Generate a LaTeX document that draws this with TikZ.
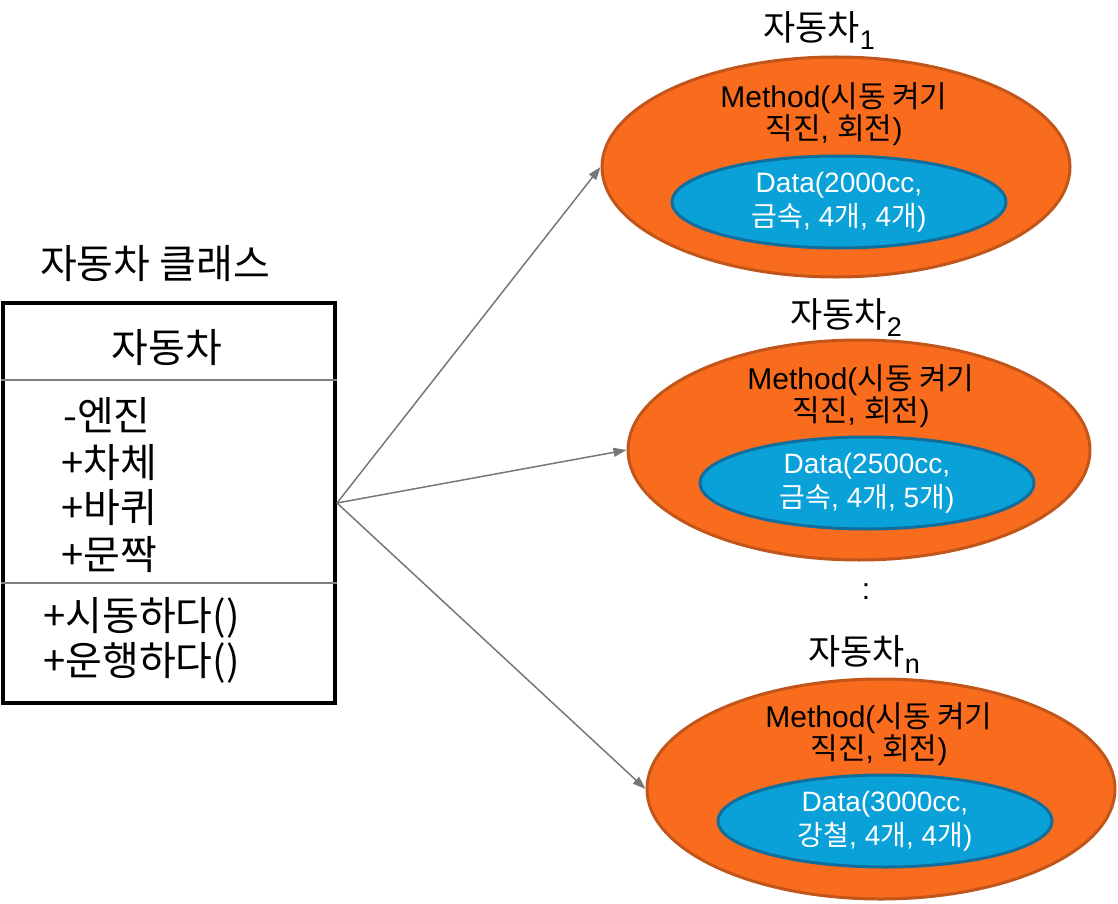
\documentclass[tikz,border=0pt]{standalone}
\usepackage{fontspec}
\setmainfont{Liberation Sans}
\newfontfamily\kr{Noto Sans CJK KR}
\usetikzlibrary{shapes.geometric,arrows.meta}

\definecolor{objfill}{HTML}{F96C1E}
\definecolor{objedge}{HTML}{C2561A}
\definecolor{datafill}{HTML}{0AA1D9}
\definecolor{dataedge}{HTML}{106E9C}
\definecolor{linkgray}{HTML}{777777}
\definecolor{rulegray}{HTML}{808080}

\begin{document}
\begin{tikzpicture}[x=1pt,y=-1pt,
  objshape/.style={ellipse, draw=objedge, fill=objfill, line width=3pt,
    minimum width=468pt, minimum height=220pt, inner sep=0pt},
  datashape/.style={ellipse, draw=dataedge, fill=datafill, line width=3pt,
    minimum width=334pt, minimum height=92pt, inner sep=0pt},
  methodtext/.style={font=\fontsize{30}{32}\selectfont, align=center, inner sep=0pt},
  datatext/.style={font=\fontsize{28}{34}\selectfont, align=center, inner sep=0pt, text=white},
  objtitle/.style={font=\kr\fontsize{35}{38}\selectfont, anchor=west, inner sep=0pt},
  member/.style={font=\kr\fontsize{40}{44}\selectfont, anchor=west, inner sep=0pt},
  link/.style={draw=linkgray, line width=1.5pt, -{Triangle[length=13pt,width=9pt]}}
]
\useasboundingbox (0,0) rectangle (1118,904);

% class box
\node[font=\kr\fontsize{40}{44}\selectfont, inner sep=0pt] (ctitle) at (155,264) {자동차 클래스};
\node[draw, line width=4pt, minimum width=332pt, minimum height=400pt, inner sep=0pt] (cls) at (169,503) {};
\draw[rulegray, line width=2pt] (cls.west |- 0,380) coordinate (r1a) -- (cls.east |- 0,380) coordinate (r1b);
\draw[rulegray, line width=2pt] (cls.west |- 0,583) coordinate (r2a) -- (cls.east |- 0,583) coordinate (r2b);
\node[font=\kr\fontsize{40}{44}\selectfont, inner sep=0pt] (cname) at (167,348) {자동차};
\node[member] (a1) at (63,415) {-엔진};
\node[member] (a2) at (61,463) {+차체};
\node[member] (a3) at (61,508) {+바퀴};
\node[member] (a4) at (61,555) {+문짝};
\node[member] (m1) at (43,618) {+시동하다()};
\node[member] (m2) at (43,663) {+운행하다()};

% object 1
\node[objshape] (o1) at (836,167) {};
\node[datashape] (d1) at (839,202) {};
\node[methodtext] (mt1) at (834,114) {Method({\kr 시동 켜기}\\{\kr 직진}, {\kr 회전})};
\node[datatext] (dt1) at (839,202) {Data(2000cc,\\{\kr 금속}, 4{\kr 개}, 4{\kr 개})};
\node[objtitle] (t1) at (763,31) {자동차\raisebox{-9pt}{\fontspec{Liberation Sans}\fontsize{27}{27}\selectfont 1}};

% object 2
\node[objshape, minimum width=462pt] (o2) at (859,450) {};
\node[datashape] (d2) at (867,483) {};
\node[methodtext] (mt2) at (861,396) {Method({\kr 시동 켜기}\\{\kr 직진}, {\kr 회전})};
\node[datatext] (dt2) at (867,483) {Data(2500cc,\\{\kr 금속}, 4{\kr 개}, 5{\kr 개})};
\node[objtitle] (t2) at (790,318) {자동차\raisebox{-9pt}{\fontspec{Liberation Sans}\fontsize{27}{27}\selectfont 2}};

\node[font=\fontsize{30}{32}\selectfont, inner sep=0pt] (dots) at (866,592) {:};

% object n
\node[objshape] (o3) at (881,789) {};
\node[datashape] (d3) at (885,821) {};
\node[methodtext] (mt3) at (879,734) {Method({\kr 시동 켜기}\\{\kr 직진}, {\kr 회전})};
\node[datatext] (dt3) at (885,821) {Data(3000cc,\\{\kr 강철}, 4{\kr 개}, 4{\kr 개})};
\node[objtitle] (t3) at (808,655) {자동차\raisebox{-9pt}{\fontspec{Liberation Sans}\fontsize{27}{27}\selectfont n}};

% instantiation links
\draw[link] (cls.east) -- (o1.west);
\draw[link] (cls.east) -- (o2.west);
\draw[link] (cls.east) -- (o3.west);
\end{tikzpicture}
\end{document}
